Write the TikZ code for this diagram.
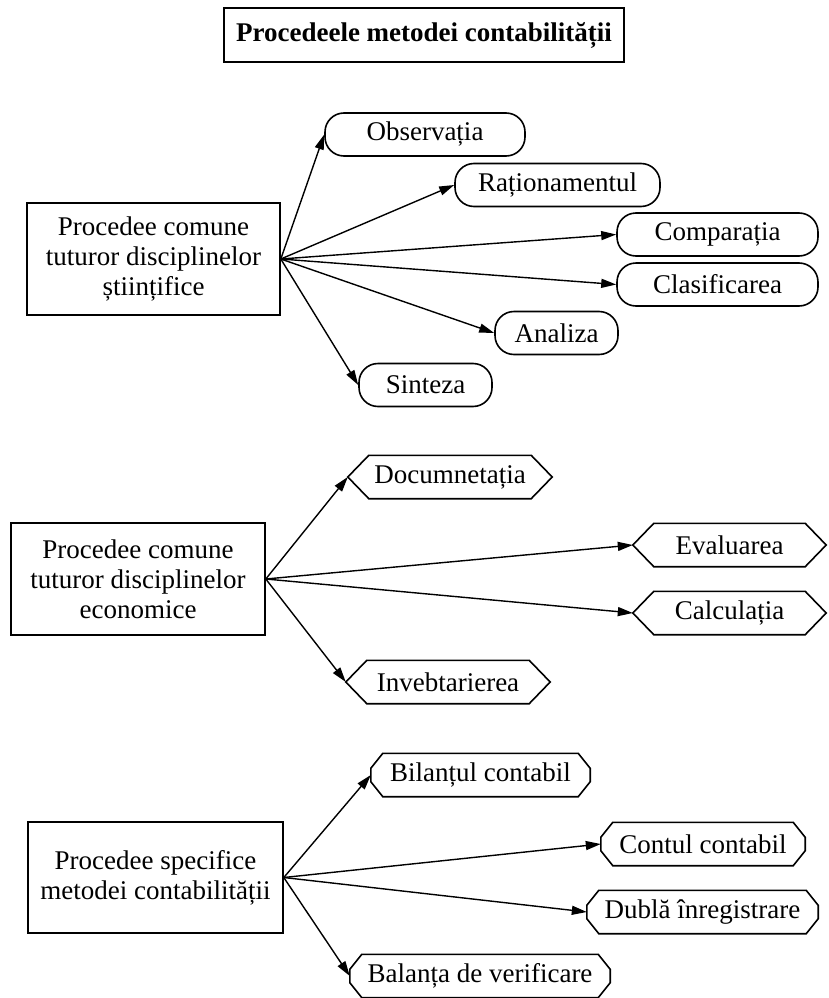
\documentclass[tikz,border=0pt]{standalone}
\usepackage{fontspec}
\setmainfont{Liberation Serif}
\usetikzlibrary{arrows.meta}

% outline of a tag with pointed ends
\newcommand\hexline[1]{%
  \draw[outline] ([xshift=21pt]#1.north west) -- ([xshift=-21pt]#1.north east) -- (#1.east)
    -- ([xshift=-21pt]#1.south east) -- ([xshift=21pt]#1.south west) -- (#1.west) -- cycle;}
% outline of a tag with chamfered corners
\newcommand\octline[1]{%
  \draw[outline] ([xshift=12pt]#1.north west) -- ([xshift=-12pt]#1.north east)
    -- ([yshift=-15pt]#1.north east) -- ([yshift=15pt]#1.south east)
    -- ([xshift=-12pt]#1.south east) -- ([xshift=12pt]#1.south west)
    -- ([yshift=15pt]#1.south west) -- ([yshift=-15pt]#1.north west) -- cycle;}

\begin{document}
\begin{tikzpicture}[x=1pt,y=-1pt,
  every node/.style={font=\fontsize{27}{30}\selectfont, inner sep=0pt, align=center},
  frame/.style={draw, line width=1.6pt},
  pill/.style={draw, line width=1.6pt, rounded corners=19pt, minimum height=43pt},
  tag/.style={minimum height=43pt},
  link/.style={line width=1.4pt, -{Triangle[length=15pt,width=9pt]}},
  outline/.style={line width=1.6pt, line join=miter}
]
\useasboundingbox (0,0) rectangle (828,998);

% heading
\node[frame, minimum width=400pt, minimum height=54pt,
      font=\bfseries\fontsize{27}{30}\selectfont] (title) at (424,35)
  {Procedeele metodei contabilității};

% group 1: general scientific procedures
\node[frame, minimum width=253pt, minimum height=112pt] (gen) at (153.5,259)
  {Procedee comune\\tuturor disciplinelor\\științifice};
\node[pill, minimum width=200pt] (obs)  at (425,134.5) {Observația};
\node[pill, minimum width=205pt] (rat)  at (557.5,185) {Raționamentul};
\node[pill, minimum width=201pt] (comp) at (717.5,234.5) {Comparația};
\node[pill, minimum width=201pt] (clas) at (717.5,284.5) {Clasificarea};
\node[pill, minimum width=123pt] (anal) at (556.5,333) {Analiza};
\node[pill, minimum width=133pt] (sint) at (425.5,385) {Sinteza};
\foreach \t in {obs,rat,comp,clas,anal,sint}
  \draw[link] (gen.east) -- (\t.west);

% group 2: economic procedures
\node[frame, minimum width=254pt, minimum height=112pt] (eco) at (138,579)
  {Procedee comune\\tuturor disciplinelor\\economice};
\node[tag, minimum width=204pt] (doc)  at (450,477) {Documnetația};
\node[tag, minimum width=193pt] (eval) at (729.5,545) {Evaluarea};
\node[tag, minimum width=193pt] (calc) at (729.5,613) {Calculația};
\node[tag, minimum width=204pt] (inv)  at (448,682) {Invebtarierea};
\foreach \t in {doc,eval,calc,inv} {
  \hexline{\t}
  \draw[link] (eco.east) -- (\t.west);
}

% group 3: accounting-specific procedures
\node[frame, minimum width=255pt, minimum height=111pt] (spec) at (155.5,877.5)
  {Procedee specifice\\metodei contabilității};
\node[tag, minimum width=219pt] (bil)  at (480.5,775) {Bilanțul contabil};
\node[tag, minimum width=204pt] (cont) at (703,844) {Contul contabil};
\node[tag, minimum width=231pt] (dub)  at (702.5,912) {Dublă înregistrare};
\node[tag, minimum width=260pt] (bal)  at (480,976) {Balanța de verificare};
\foreach \t in {bil,cont,dub,bal} {
  \octline{\t}
  \draw[link] (spec.east) -- (\t.west);
}
\end{tikzpicture}
\end{document}
